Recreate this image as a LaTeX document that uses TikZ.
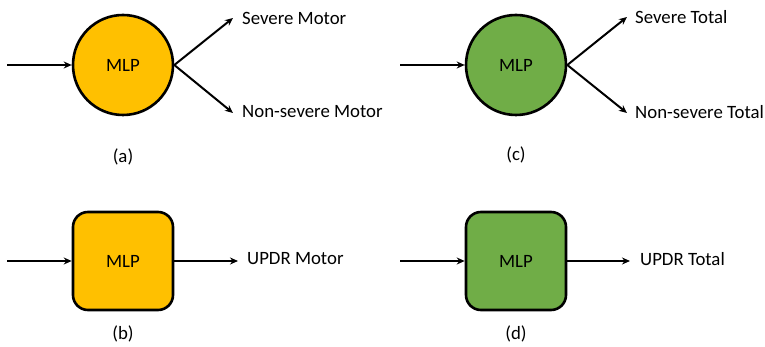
\documentclass[tikz,border=0pt]{standalone}
\usepackage{fontspec}
\setmainfont{Carlito}
\usetikzlibrary{arrows.meta}
\definecolor{mlporange}{HTML}{FFC000}
\definecolor{mlpgreen}{HTML}{70AD47}
\begin{document}
\begin{tikzpicture}[x=1pt,y=-1pt,
  txt/.style={font=\fontsize{18.8}{21}\selectfont, inner sep=0pt},
  circ/.style={circle, draw=black, line width=2.6pt, minimum size=100pt, inner sep=0pt, font=\fontsize{18.8}{21}\selectfont},
  rbox/.style={rectangle, rounded corners=15pt, draw=black, line width=2.6pt, minimum width=100pt, minimum height=98pt, inner sep=0pt, font=\fontsize{18.8}{21}\selectfont},
  arr/.style={line width=2pt, -{Stealth[length=8pt,width=7pt]}}]
\useasboundingbox (0,0) rectangle (765,347);
% (a)
\node[circ, fill=mlporange] (A) at (123,65) {MLP};
\coordinate (Ain) at (7,65);
\coordinate (Aup) at (233,18);
\coordinate (Adn) at (233,113);
\draw[arr] (Ain) -- (A.west);
\draw[arr] (A.east) -- (Aup);
\draw[arr] (A.east) -- (Adn);
\node[txt, anchor=west] (Al1) at (242,18) {Severe Motor};
\node[txt, anchor=west] (Al2) at (242,112) {Non-severe Motor};
\node[txt] (Acap) at (123,157) {(a)};
% (c)
\node[circ, fill=mlpgreen] (C) at (516,65) {MLP};
\coordinate (Cin) at (400,65);
\coordinate (Cup) at (627,17);
\coordinate (Cdn) at (627,113);
\draw[arr] (Cin) -- (C.west);
\draw[arr] (C.east) -- (Cup);
\draw[arr] (C.east) -- (Cdn);
\node[txt, anchor=west] (Cl1) at (635,17) {Severe Total};
\node[txt, anchor=west] (Cl2) at (635,112) {Non-severe Total};
\node[txt] (Ccap) at (516,155) {(c)};
% (b)
\node[rbox, fill=mlporange] (B) at (123,261) {MLP};
\coordinate (Bin) at (7,261);
\coordinate (Bout) at (238,261);
\draw[arr] (Bin) -- (B.west);
\draw[arr] (B.east) -- (Bout);
\node[txt, anchor=west] (Bl) at (247,259) {UPDR Motor};
\node[txt] (Bcap) at (123,334) {(b)};
% (d)
\node[rbox, fill=mlpgreen] (D) at (516,261) {MLP};
\coordinate (Din) at (400,261);
\coordinate (Dout) at (630,261);
\draw[arr] (Din) -- (D.west);
\draw[arr] (D.east) -- (Dout);
\node[txt, anchor=west] (Dl) at (640,259) {UPDR Total};
\node[txt] (Dcap) at (516,334) {(d)};
\end{tikzpicture}
\end{document}
